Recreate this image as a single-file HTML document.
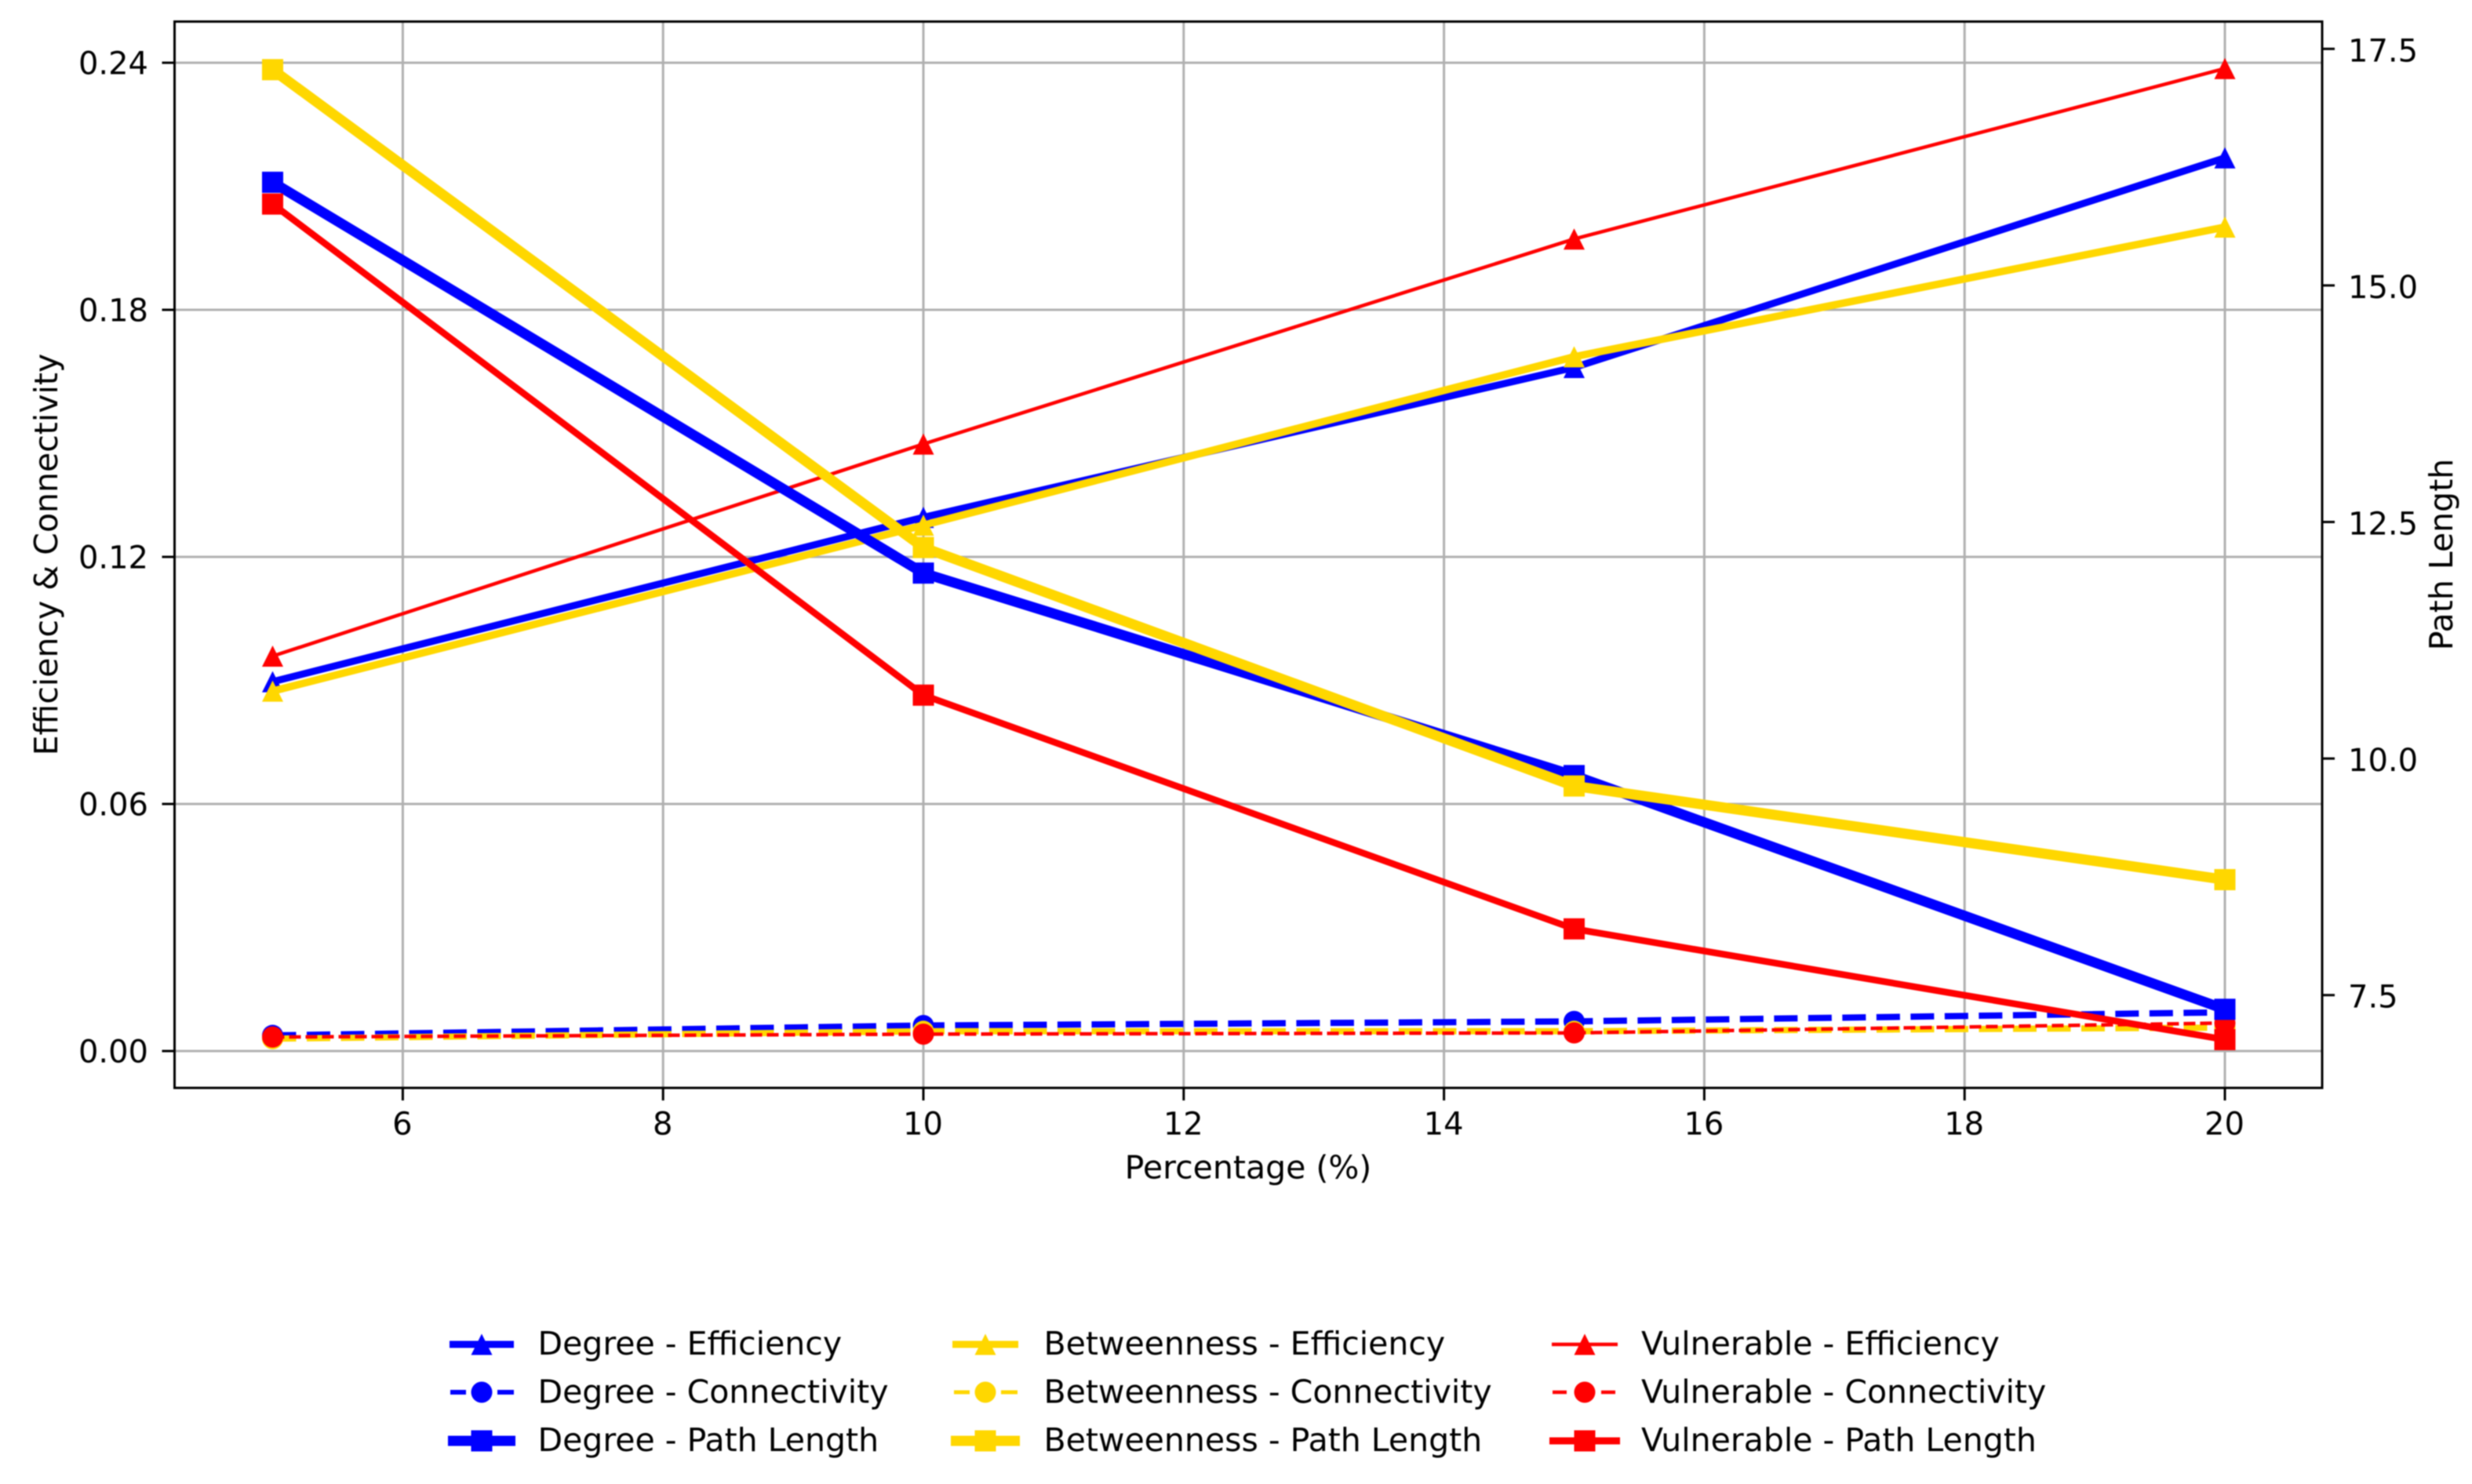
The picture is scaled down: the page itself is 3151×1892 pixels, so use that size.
<!DOCTYPE html>
<html lang="en">
<head>
<meta charset="utf-8">
<title>Efficiency, Connectivity and Path Length vs Percentage</title>
<style>
  html, body { margin: 0; padding: 0; background: #fff; }
  #chart { display: block; filter: blur(0.85px); font-family: "DejaVu Sans", "Liberation Sans", sans-serif; }
  text { fill: #000; font-size: 40px; }
  .big { font-size: 41px; }
</style>
</head>
<body>
<svg id="chart" xmlns="http://www.w3.org/2000/svg" width="3151" height="1892" viewBox="0 0 3151 1892">
  <rect x="0" y="0" width="3151" height="1892" fill="#ffffff"/>
  <g id="grid"></g>
  <g id="series"></g>
  <rect x="222.5" y="27.5" width="2737.5" height="1359.5" fill="none" stroke="#000" stroke-width="3"/>
  <g id="axes"></g>

  <text class="big" x="1591" y="1502.5" text-anchor="middle">Percentage (%)</text>
  <text class="big" transform="translate(73 707) rotate(-90)" text-anchor="middle">Efficiency &amp; Connectivity</text>
  <text class="big" transform="translate(3126 707) rotate(-90)" text-anchor="middle">Path Length</text>

  <g id="legend">
    <g>
      <line x1="573" x2="655" y1="1714" y2="1714" stroke="#0000ff" stroke-width="9"/>
      <polygon points="614,1700.5 627.5,1727.5 600.5,1727.5" fill="#0000ff"/>
      <text class="big" x="685.5" y="1727">Degree - Efficiency</text>
    </g>
    <g>
      <line x1="574" x2="594" y1="1775" y2="1775" stroke="#0000ff" stroke-width="6"/>
      <line x1="634" x2="655" y1="1775" y2="1775" stroke="#0000ff" stroke-width="6"/>
      <circle cx="614" cy="1775" r="13.5" fill="#0000ff"/>
      <text class="big" x="685.5" y="1788.5">Degree - Connectivity</text>
    </g>
    <g>
      <line x1="571" x2="657" y1="1837" y2="1837" stroke="#0000ff" stroke-width="13"/>
      <rect x="600.5" y="1823.5" width="27" height="27" fill="#0000ff"/>
      <text class="big" x="685.5" y="1850">Degree - Path Length</text>
    </g>

    <g>
      <line x1="1214" x2="1298" y1="1714" y2="1714" stroke="#ffd700" stroke-width="9"/>
      <polygon points="1256,1700.5 1269.5,1727.5 1242.5,1727.5" fill="#ffd700"/>
      <text class="big" x="1330.5" y="1727">Betweenness - Efficiency</text>
    </g>
    <g>
      <line x1="1216" x2="1236" y1="1775" y2="1775" stroke="#ffd700" stroke-width="5"/>
      <line x1="1276" x2="1297" y1="1775" y2="1775" stroke="#ffd700" stroke-width="5"/>
      <circle cx="1256" cy="1775" r="13.5" fill="#ffd700"/>
      <text class="big" x="1330.5" y="1788.5">Betweenness - Connectivity</text>
    </g>
    <g>
      <line x1="1212" x2="1300" y1="1837" y2="1837" stroke="#ffd700" stroke-width="13"/>
      <rect x="1242.5" y="1823.5" width="27" height="27" fill="#ffd700"/>
      <text class="big" x="1330.5" y="1850">Betweenness - Path Length</text>
    </g>

    <g>
      <line x1="1978" x2="2062" y1="1714" y2="1714" stroke="#ff0000" stroke-width="4.5"/>
      <polygon points="2020,1700.5 2033.5,1727.5 2006.5,1727.5" fill="#ff0000"/>
      <text class="big" x="2092" y="1727">Vulnerable - Efficiency</text>
    </g>
    <g>
      <line x1="1979" x2="1997" y1="1775" y2="1775" stroke="#ff0000" stroke-width="4.5"/>
      <line x1="2041" x2="2059" y1="1775" y2="1775" stroke="#ff0000" stroke-width="4.5"/>
      <circle cx="2020" cy="1775" r="13.5" fill="#ff0000"/>
      <text class="big" x="2092" y="1788.5">Vulnerable - Connectivity</text>
    </g>
    <g>
      <line x1="1975" x2="2065" y1="1837" y2="1837" stroke="#ff0000" stroke-width="9"/>
      <rect x="2006.5" y="1823.5" width="27" height="27" fill="#ff0000"/>
      <text class="big" x="2092" y="1850">Vulnerable - Path Length</text>
    </g>
  </g>
</svg>

<script>
const percentages = [5, 10, 15, 20];
const degreeEfficiency = [0.0897, 0.1296, 0.1660, 0.2169];
const degreeConnectivity = [0.0038, 0.0062, 0.0072, 0.0094];
const betweennessEfficiency = [0.0874, 0.1277, 0.1686, 0.2001];
const betweennessConnectivity = [0.0030, 0.0048, 0.0048, 0.0057];
const vulnerableEfficiency = [0.0959, 0.1474, 0.1972, 0.2386];
const vulnerableConnectivity = [0.0034, 0.0041, 0.0044, 0.0068];
const degreePathLength = [16.09, 11.96, 9.82, 7.35];
const betweennessPathLength = [17.28, 12.23, 9.71, 8.72];
const vulnerablePathLength = [15.86, 10.67, 8.20, 7.03];

const xTicks = [6, 8, 10, 12, 14, 16, 18, 20];
const xTickLabels = ['6', '8', '10', '12', '14', '16', '18', '20'];
const leftTicks = [0, 0.06, 0.12, 0.18, 0.24];
const leftTickLabels = ['0.00', '0.06', '0.12', '0.18', '0.24'];
const rightTicks = [7.5, 10, 12.5, 15, 17.5];
const rightTickLabels = ['7.5', '10.0', '12.5', '15.0', '17.5'];

const SVG_NS = 'http://www.w3.org/2000/svg';
const PLOT = { left: 222.5, right: 2960, top: 27.5, bottom: 1387 };

function xScale(v) { return 513.4 + (v - 6) * 165.9; }
function leftScale(v) { return 1340 - v * 5250; }
function rightScale(v) { return 62.3 + (17.5 - v) * 120.64; }

function make(tag, attrs, parent) {
  const el = document.createElementNS(SVG_NS, tag);
  for (const k in attrs) el.setAttribute(k, attrs[k]);
  parent.appendChild(el);
  return el;
}

function drawMarker(kind, cx, cy, color, parent) {
  const h = 13.5;
  let el;
  if (kind === 'triangle') {
    el = make('polygon', { points: cx + ',' + (cy - h) + ' ' + (cx + h) + ',' + (cy + h) + ' ' + (cx - h) + ',' + (cy + h), fill: color }, parent);
  } else if (kind === 'circle') {
    el = make('circle', { cx: cx, cy: cy, r: h, fill: color }, parent);
  } else {
    el = make('rect', { x: cx - h, y: cy - h, width: 2 * h, height: 2 * h, fill: color }, parent);
  }
  
  
}

function drawSeries(name, values, yScale, color, width, dash, marker) {
  const host = document.getElementById('series');
  const group = make('g', {}, host);
  
  
  const pts = values.map((v, i) => xScale(percentages[i]) + ',' + yScale(v)).join(' ');
  const line = make('polyline', { points: pts, fill: 'none', stroke: color, 'stroke-width': width, 'stroke-linejoin': 'round' }, group);
  
  
  if (dash) line.setAttribute('stroke-dasharray', dash);
  values.forEach((v, i) => drawMarker(marker, xScale(percentages[i]), yScale(v), color, group));
}

function drawGrid() {
  const host = document.getElementById('grid');
  xTicks.forEach(t => {
    const el = make('line', { x1: xScale(t), x2: xScale(t), y1: PLOT.top, y2: PLOT.bottom, stroke: '#b0b0b0', 'stroke-width': 3 }, host);
    
    
  });
  leftTicks.forEach(t => {
    const el = make('line', { x1: PLOT.left, x2: PLOT.right, y1: leftScale(t), y2: leftScale(t), stroke: '#b0b0b0', 'stroke-width': 3 }, host);
    
    
  });
}

function drawAxes() {
  const host = document.getElementById('axes');
  xTicks.forEach((t, i) => {
    const x = xScale(t);
    const tick = make('line', { x1: x, x2: x, y1: PLOT.bottom, y2: PLOT.bottom + 16, stroke: '#000', 'stroke-width': 3 }, host);
    
    
    const label = make('text', { x: x - 0.5, y: 1446.5, 'text-anchor': 'middle' }, host);
    
    
    label.textContent = xTickLabels[i];
  });
  leftTicks.forEach((t, i) => {
    const y = leftScale(t);
    const tick = make('line', { x1: PLOT.left - 16, x2: PLOT.left, y1: y, y2: y, stroke: '#000', 'stroke-width': 3 }, host);
    
    
    const label = make('text', { x: 189, y: y + 14.5, 'text-anchor': 'end' }, host);
    
    
    label.textContent = leftTickLabels[i];
  });
  rightTicks.forEach((t, i) => {
    const y = rightScale(t);
    const tick = make('line', { x1: PLOT.right, x2: PLOT.right + 16, y1: y, y2: y, stroke: '#000', 'stroke-width': 3 }, host);
    
    
    const label = make('text', { x: 2993, y: y + 16, 'data-axis': 'right' }, host);
    
    
    label.textContent = rightTickLabels[i];
  });
}

drawGrid();
drawSeries('degree-efficiency', degreeEfficiency, leftScale, '#0000ff', 9, null, 'triangle');
drawSeries('degree-connectivity', degreeConnectivity, leftScale, '#0000ff', 8, '30 13.5', 'circle');
drawSeries('betweenness-efficiency', betweennessEfficiency, leftScale, '#ffd700', 9.5, null, 'triangle');
drawSeries('betweenness-connectivity', betweennessConnectivity, leftScale, '#ffd700', 8, '30 13.5', 'circle');
drawSeries('vulnerable-efficiency', vulnerableEfficiency, leftScale, '#ff0000', 4.5, null, 'triangle');
drawSeries('vulnerable-connectivity', vulnerableConnectivity, leftScale, '#ff0000', 4.5, '15 6', 'circle');
drawSeries('degree-path-length', degreePathLength, rightScale, '#0000ff', 13, null, 'square');
drawSeries('betweenness-path-length', betweennessPathLength, rightScale, '#ffd700', 13, null, 'square');
drawSeries('vulnerable-path-length', vulnerablePathLength, rightScale, '#ff0000', 8.5, null, 'square');
drawAxes();
</script>
</body>
</html>
